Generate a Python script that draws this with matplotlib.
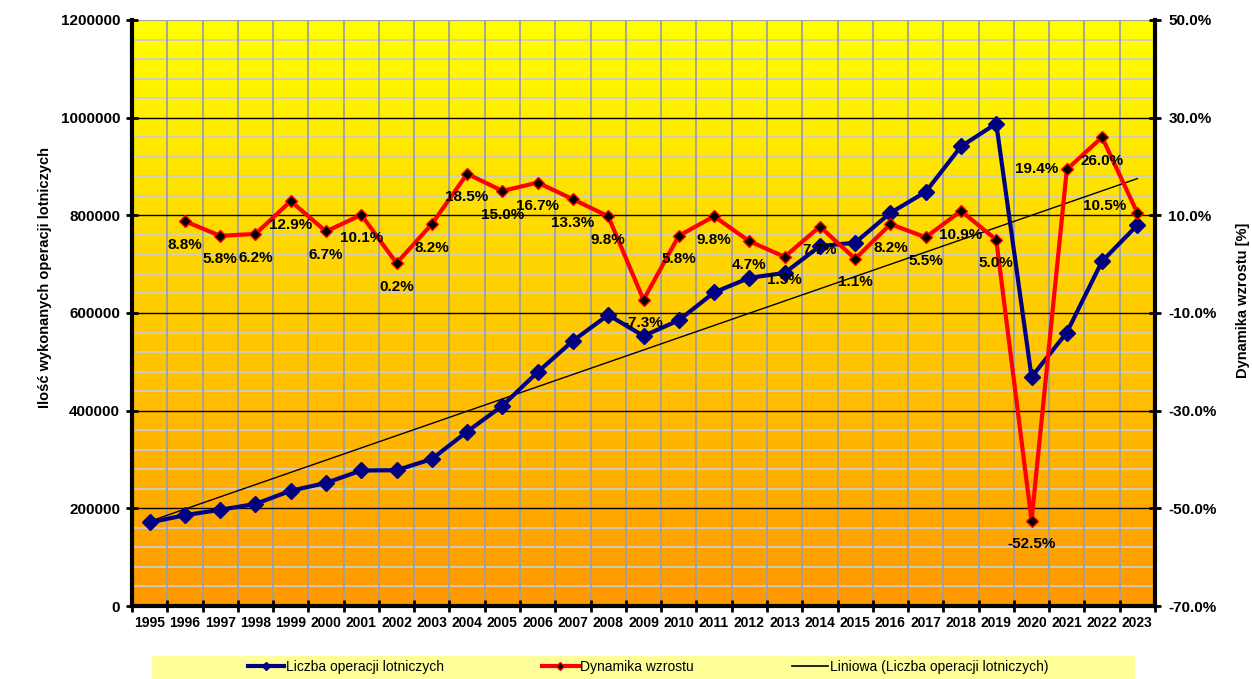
import numpy as np
import matplotlib.pyplot as plt
from matplotlib.colors import LinearSegmentedColormap
from matplotlib.lines import Line2D
from matplotlib.patches import Rectangle
from matplotlib.ticker import FuncFormatter, MultipleLocator

# Dane
years = list(range(1995, 2024))
operations = [171000, 186000, 197000, 209000, 236000, 252000, 277500, 278000,
              301000, 357000, 410000, 479000, 543000, 596000, 553000, 585000,
              642000, 672000, 682000, 737000, 744000, 805000, 848000, 941000,
              988000, 469000, 560000, 706000, 780000]
growth_years = years[1:]
growth = [8.8, 5.8, 6.2, 12.9, 6.7, 10.1, 0.2, 8.2, 18.5, 15.0, 16.7, 13.3,
          9.8, -7.3, 5.8, 9.8, 4.7, 1.5, 7.7, 1.1, 8.2, 5.5, 10.9, 5.0,
          -52.5, 19.4, 26.0, 10.5]

label_left = [2021, 2023]

plt.rcParams['font.family'] = ['Liberation Sans', 'DejaVu Sans']
plt.rcParams['font.weight'] = 'bold'

fig = plt.figure(figsize=(12.52, 6.79), dpi=100)
ax = fig.add_axes([132 / 1252, 73 / 679, 1023 / 1252, 586 / 679])

x = np.arange(len(years))
gx = np.array([years.index(y) for y in growth_years])

# gradient tla
cmap = LinearSegmentedColormap.from_list('bg', ['#FF9900', '#FFFF00'])
grad = np.linspace(0, 1, 256).reshape(-1, 1)
ax.imshow(grad, cmap=cmap, origin='lower', aspect='auto',
          extent=[-0.5, len(years) - 0.5, 0, 1200000], zorder=0)

ax.set_xlim(-0.5, len(years) - 0.5)
ax.set_ylim(0, 1200000)

# siatka
ax.set_xticks(np.arange(-0.5, len(years), 1))
ax.set_xticklabels([])
ax.set_xticks(x, minor=True)
ax.set_xticklabels([str(y) for y in years], minor=True, fontsize=10, fontweight='bold')
ax.yaxis.set_major_locator(MultipleLocator(200000))
ax.yaxis.set_minor_locator(MultipleLocator(40000))
ax.yaxis.set_major_formatter(FuncFormatter(lambda v, p: f'{int(v)}'))
for v in np.arange(40000, 1200000, 40000):
    if v % 200000:
        ax.axhline(v, color='#CCCCCC', lw=1.3, zorder=0.5)
for v in range(200000, 1200000, 200000):
    ax.axhline(v, color='black', lw=1.0, zorder=0.6)
for b in np.arange(0.5, len(years) - 1, 1):
    ax.axvline(b, color='#A0A0A0', lw=1.3, zorder=0.55)
ax.axhline(1200000, color='#A0A0A0', lw=1.5, zorder=0.6)

ax.tick_params(axis='x', which='major', direction='inout', length=9, width=2, labelbottom=False)
ax.tick_params(axis='x', which='minor', length=0, pad=7)
ax.tick_params(axis='y', which='major', direction='inout', length=9, width=2,
               labelsize=11, pad=4)
ax.tick_params(axis='y', which='minor', length=0)
for lab in ax.get_yticklabels():
    lab.set_fontweight('bold')

for s in ['left', 'bottom']:
    ax.spines[s].set_linewidth(3)
    ax.spines[s].set_color('black')
ax.spines['top'].set_visible(False)
ax.spines['right'].set_visible(False)

# linia trendu
coef = np.polyfit(x, operations, 1)
ax.plot(x, np.polyval(coef, x), color='black', lw=1.0, zorder=3)

ax.plot(x, operations, color='#000080', lw=3, marker='D', markersize=8,
        markerfacecolor='#000080', markeredgecolor='#000080', zorder=4)

ax2 = ax.twinx()
ax2.set_ylim(-70, 50)
ax2.set_yticks(np.arange(-70, 51, 20))
ax2.yaxis.set_major_formatter(FuncFormatter(lambda v, p: f'{v:.1f}%'))
ax2.tick_params(axis='y', direction='inout', length=9, width=2, labelsize=11, pad=5)
for lab in ax2.get_yticklabels():
    lab.set_fontweight('bold')
for s in ['left', 'bottom', 'top']:
    ax2.spines[s].set_visible(False)
ax2.spines['right'].set_linewidth(3)
ax2.spines['right'].set_color('black')

ax2.plot(gx, growth, color='#FF0000', lw=3, marker='D', markersize=6.5,
         markerfacecolor='black', markeredgecolor='#FF0000', markeredgewidth=1, zorder=5)

for yr, xi, v in zip(growth_years, gx, growth):
    if yr in label_left:
        off = (-6, 0) if yr == 2021 else (-8, 5)
        ax2.annotate(f'{v:.1f}%', (xi, v), xytext=off, textcoords='offset points',
                     ha='right', va='center', fontsize=11, fontweight='bold', zorder=6)
    else:
        ax2.annotate(f'{v:.1f}%', (xi, v), xytext=(0, -17), textcoords='offset points',
                     ha='center', va='center', fontsize=11, fontweight='bold', zorder=6)

fig.text(45 / 1252, 1 - 278 / 679, 'Ilość wykonanych operacji lotniczych', rotation=90,
         ha='center', va='center', fontsize=10.5, fontweight='bold')
fig.text(1243 / 1252, 1 - 300 / 679, 'Dynamika wzrostu [%]', rotation=90,
         ha='center', va='center', fontsize=10.5, fontweight='bold')

# legenda
fig.patches.append(Rectangle((152 / 1252, 0), (1135 - 152) / 1252, 23 / 679,
                             transform=fig.transFigure, facecolor='#FFFF99',
                             edgecolor='none', zorder=0))
handles = [
    Line2D([], [], color='#000080', lw=3, marker='D', markersize=4, markerfacecolor='#000080'),
    Line2D([], [], color='#FF0000', lw=3, marker='D', markersize=4,
           markerfacecolor='black', markeredgecolor='#FF0000'),
    Line2D([], [], color='black', lw=1.2),
]
labels = ['Liczba operacji lotniczych', 'Dynamika wzrostu',
          'Liniowa (Liczba operacji lotniczych)']
leg = fig.legend(handles, labels, loc='center', bbox_to_anchor=(648 / 1252, 12 / 679),
                 ncol=3, frameon=False, columnspacing=7.05, handlelength=2.65,
                 handletextpad=0.1, prop={'family': ['Liberation Sans Narrow', 'Liberation Sans'],
                                          'size': 10, 'weight': 'normal'})

fig.savefig('out.png', dpi=100)
